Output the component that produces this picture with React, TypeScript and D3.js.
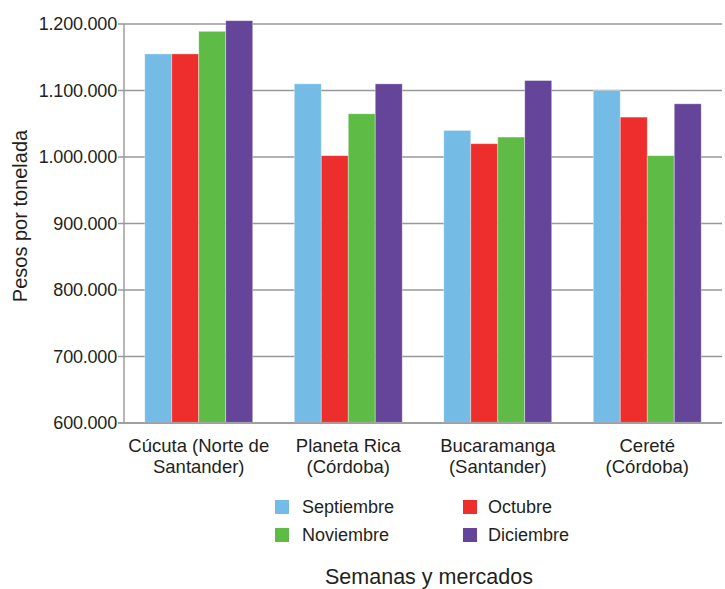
import React from "react";
import * as d3 from "d3";

const categories: string[][] = [
  ["Cúcuta (Norte de", "Santander)"],
  ["Planeta Rica", "(Córdoba)"],
  ["Bucaramanga", "(Santander)"],
  ["Cereté", "(Córdoba)"],
];
const seriesNames = ["Septiembre", "Octubre", "Noviembre", "Diciembre"];
const septiembre = [1155000, 1110000, 1040000, 1100000];
const octubre = [1155000, 1002000, 1020000, 1060000];
const noviembre = [1189000, 1065000, 1030000, 1002000];
const diciembre = [1205000, 1110000, 1115000, 1080000];
const yTicks = [600000, 700000, 800000, 900000, 1000000, 1100000, 1200000];
const colors = ["#74BBE6", "#EE2E2C", "#5DBB46", "#65459A"];

const W = 725;
const H = 589;
const FONT = "'Liberation Sans', Arial, Helvetica, sans-serif";

export default function App() {
  const series = [septiembre, octubre, noviembre, diciembre];
  const left = 124;
  const right = 722;
  const top = 24;
  const bottom = 423;
  const y = d3.scaleLinear().domain([600000, 1200000]).range([bottom, top]);
  const x0 = d3
    .scaleBand<number>()
    .domain(categories.map((_, i) => i))
    .range([left, right])
    .padding(0);
  const x1 = d3
    .scaleBand<number>()
    .domain(seriesNames.map((_, i) => i))
    .range([0, x0.bandwidth()])
    .paddingInner(0)
    .paddingOuter(0.77);
  const fmt = (v: number) => d3.format(",")(v).replace(/,/g, ".");

  const legendPos = [
    { sx: 275, tx: 302, cy: 507 },
    { sx: 463, tx: 488, cy: 507 },
    { sx: 275, tx: 302, cy: 535 },
    { sx: 463, tx: 488, cy: 535 },
  ];

  return (
    <svg
      width={W}
      height={H}
      style={{ position: "absolute", left: 0, top: 0, background: "#fff" }}
      fontFamily={FONT}
    >
      {yTicks.map((t) => (
        <g key={t}>
          <line x1={118} x2={right} y1={y(t)} y2={y(t)} stroke="#999" strokeWidth={1.4} />
          <text
            x={117}
            y={y(t)}
            dy="0.35em"
            textAnchor="end"
            fontSize={18}
            letterSpacing={-0.2}
            fill="#231f20"
          >
            {fmt(t)}
          </text>
        </g>
      ))}
      <line x1={left} x2={left} y1={top} y2={bottom} stroke="#999" strokeWidth={1.4} />
      {categories.map((_, ci) => (
        <g key={ci} transform={`translate(${x0(ci)},0)`}>
          {series.map((s, si) => (
            <rect
              key={si}
              x={x1(si)}
              y={y(s[ci])}
              width={x1.bandwidth()}
              height={bottom - 0.7 - y(s[ci])}
              fill={colors[si]}
              stroke="#ffffff"
              strokeOpacity={0.45}
              strokeWidth={0.8}
            />
          ))}
        </g>
      ))}
      <line x1={118} x2={right} y1={bottom} y2={bottom} stroke="#999" strokeWidth={1.6} />
      {categories.map((lines, ci) => (
        <text
          key={ci}
          x={(x0(ci) as number) + x0.bandwidth() / 2}
          y={452}
          textAnchor="middle"
          fontSize={18.5}
          fill="#231f20"
        >
          {lines.map((l, li) => (
            <tspan key={li} x={(x0(ci) as number) + x0.bandwidth() / 2} dy={li === 0 ? 0 : 21}>
              {l}
            </tspan>
          ))}
        </text>
      ))}
      {seriesNames.map((n, i) => (
        <g key={n}>
          <rect x={legendPos[i].sx} y={legendPos[i].cy - 7} width={14} height={14} fill={colors[i]} />
          <text x={legendPos[i].tx} y={legendPos[i].cy} dy="0.35em" fontSize={18} fill="#231f20">
            {n}
          </text>
        </g>
      ))}
      <text x={429} y={584} textAnchor="middle" fontSize={21.5} fill="#231f20">
        Semanas y mercados
      </text>
      <text
        transform={`translate(27,216) rotate(-90)`}
        textAnchor="middle"
        fontSize={20}
        fill="#231f20"
      >
        Pesos por tonelada
      </text>
    </svg>
  );
}
